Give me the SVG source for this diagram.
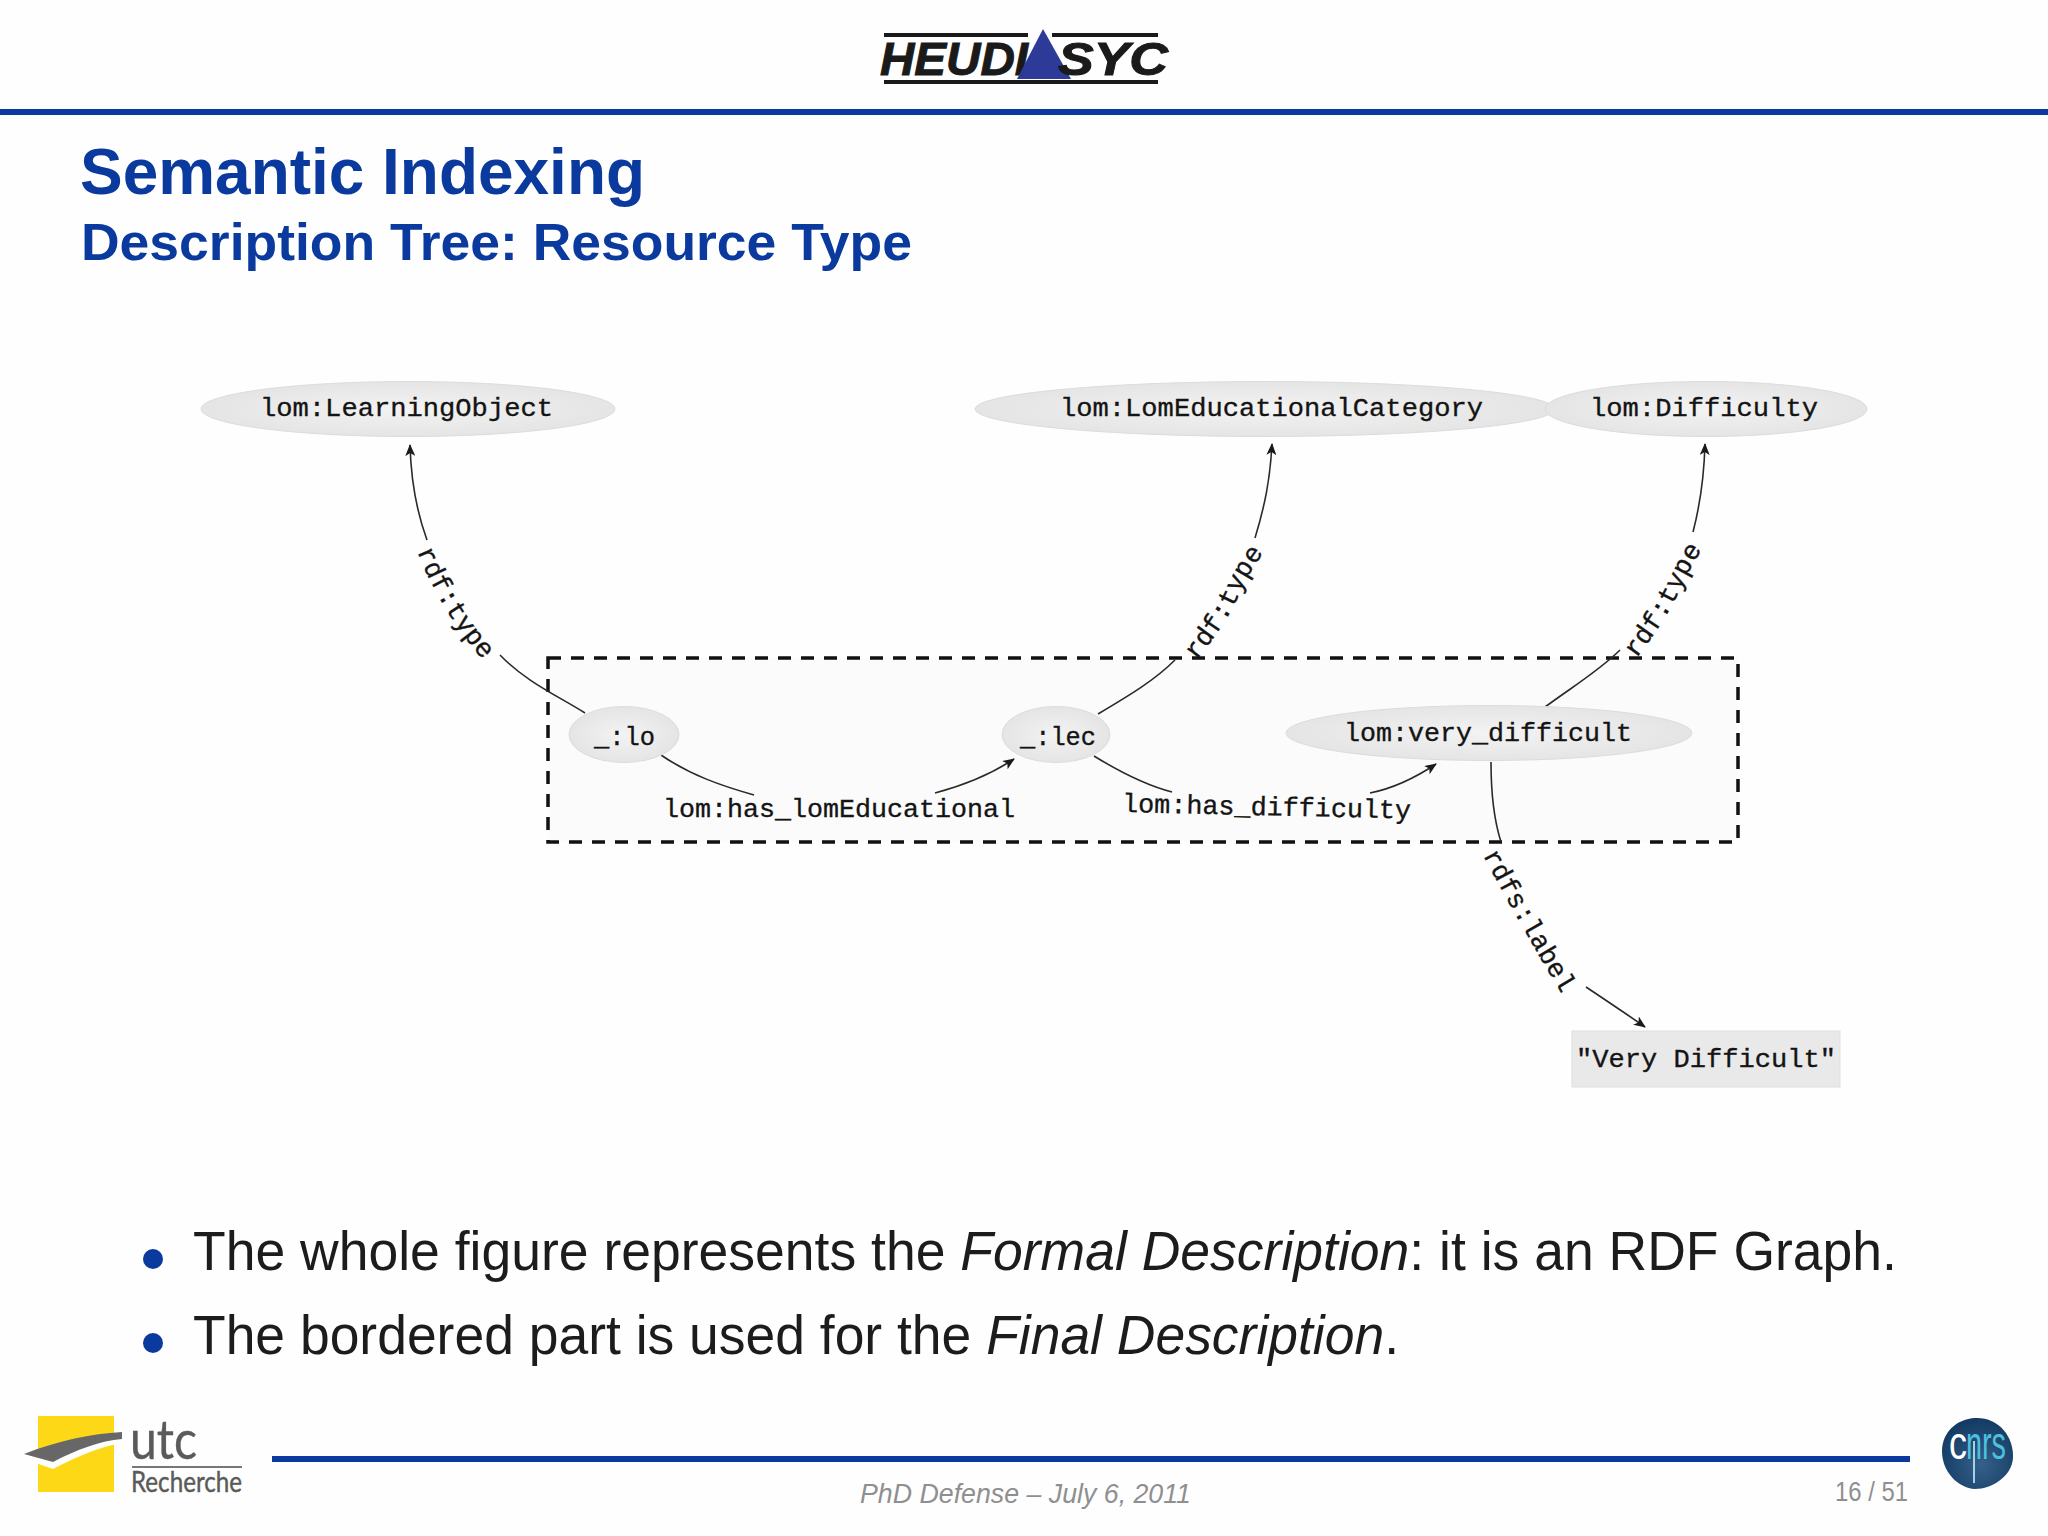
<svg xmlns="http://www.w3.org/2000/svg" width="2048" height="1536" viewBox="0 0 2048 1536">
<style>
.n{fill:url(#ng);stroke:#dcdcdc;stroke-width:1}
.t{font-family:"Liberation Mono","DejaVu Sans Mono",monospace;font-size:26.7px;fill:#141414;stroke:#141414;stroke-width:.35}
.e{fill:none;stroke:#2a2a2a;stroke-width:1.6}
.h{font-family:"Liberation Sans",Arial,sans-serif;font-weight:700;fill:#0b3a9e}
.b{font-family:"Liberation Sans",Arial,sans-serif;font-size:55px;fill:#1c1c1c}
.f{font-family:"Liberation Sans",Arial,sans-serif;font-size:28px;fill:#8f8f8f}
.bar{fill:#0b3a9e}
.u{font-family:"Lato","Liberation Sans",sans-serif;fill:#5a5a5a;stroke:#5a5a5a;stroke-width:.4}
.l{font-family:"Liberation Sans",sans-serif;font-weight:700;font-style:italic;font-size:46px;fill:#1a1a1a;stroke:#1a1a1a;stroke-width:1}
</style>
<defs>
<radialGradient id="ng" cx=".5" cy=".5" r=".6"><stop offset="0" stop-color="#f3f3f3"/><stop offset="1" stop-color="#e2e2e2"/></radialGradient>
<radialGradient id="cg" cx=".55" cy=".65" r=".65"><stop offset="0" stop-color="#356089"/><stop offset="1" stop-color="#123a62"/></radialGradient>
<marker id="a" viewBox="0 0 12 10" refX="11" refY="5" markerWidth="12" markerHeight="10" markerUnits="userSpaceOnUse" orient="auto"><path d="M0 0L12 5L0 10L3 5Z" fill="#1a1a1a"/></marker>
<path id="p1" d="M417 551Q441 612 484 661"/>
<path id="p2" d="M1196 661Q1227 622 1238 597T1263 554"/>
<path id="p3" d="M1636 659Q1667 618 1679 592T1700 553"/>
<path id="p4" d="M1483 855Q1514 915 1563 996"/>
</defs>
<rect width="2048" height="1536" fill="#fefefe"/>
<g id="header">
<rect x="884" y="33" width="144" height="4" fill="#1a1a1a"/><rect x="1052" y="33" width="106" height="4" fill="#1a1a1a"/>
<rect x="884" y="80" width="274" height="4" fill="#1a1a1a"/>
<text class="l" x="880" y="75" textLength="148" lengthAdjust="spacingAndGlyphs">HEUDI</text>
<polygon points="1043,29 1017,79 1071,79" fill="#2d3a97"/>
<text class="l" x="1058" y="75" textLength="110" lengthAdjust="spacingAndGlyphs">SYC</text>
<rect class="bar" y="109" width="2048" height="6"/>
</g>
<g id="title">
<text class="h" x="80" y="194" font-size="64" textLength="565" lengthAdjust="spacingAndGlyphs">Semantic Indexing</text>
<text class="h" x="81" y="260" font-size="52" textLength="831" lengthAdjust="spacingAndGlyphs">Description Tree: Resource Type</text>
</g>
<rect id="border" x="548" y="658" width="1190" height="184" fill="#fbfbfb" stroke="#111" stroke-width="3.5" stroke-dasharray="13 10"/>
<g id="connectors">
<path class="e" d="M585 713C558 696 526 682 500 655"/>
<path class="e" marker-end="url(#a)" d="M427 540C416 510 411 480 410 445"/>
<path class="e" d="M661 755C690 775 722 786 754 795"/>
<path class="e" marker-end="url(#a)" d="M935 793C965 785 990 775 1014 759"/>
<path class="e" d="M1098 714C1130 695 1155 680 1175 660"/>
<path class="e" marker-end="url(#a)" d="M1255 538C1265 505 1270 480 1272 444"/>
<path class="e" d="M1094 756C1120 772 1145 785 1172 792"/>
<path class="e" marker-end="url(#a)" d="M1370 793C1395 788 1415 778 1436 764"/>
<path class="e" d="M1545 707C1575 685 1600 670 1620 650"/>
<path class="e" marker-end="url(#a)" d="M1693 532C1700 505 1704 480 1705 444"/>
<path class="e" d="M1491 762C1491 790 1494 820 1501 842"/>
<path class="e" marker-end="url(#a)" d="M1586 987C1610 1003 1628 1015 1645 1027"/>
</g>
<g id="edge-labels">
<text class="t"><textPath href="#p1">rdf:type</textPath></text>
<text class="t"><textPath href="#p2">rdf:type</textPath></text>
<text class="t"><textPath href="#p3">rdf:type</textPath></text>
<text class="t"><textPath href="#p4">rdfs:label</textPath></text>
<text class="t" x="663" y="817" textLength="352" lengthAdjust="spacingAndGlyphs">lom:has_lomEducational</text>
<text class="t" x="1122" y="812" textLength="289" lengthAdjust="spacingAndGlyphs" transform="rotate(1.3 1122 812)">lom:has_difficulty</text>
</g>
<g id="n-learning"><ellipse class="n" cx="408" cy="409" rx="207" ry="27.5"/><text class="t" x="260" y="416" textLength="293" lengthAdjust="spacingAndGlyphs">lom:LearningObject</text></g>
<g id="n-category"><ellipse class="n" cx="1265" cy="409" rx="290" ry="27.5"/><text class="t" x="1060" y="416" textLength="423" lengthAdjust="spacingAndGlyphs">lom:LomEducationalCategory</text></g>
<g id="n-difficulty"><ellipse class="n" cx="1706" cy="409" rx="161" ry="27.5"/><text class="t" x="1590" y="416" textLength="228" lengthAdjust="spacingAndGlyphs">lom:Difficulty</text></g>
<g id="n-lo"><ellipse class="n" cx="624" cy="734.5" rx="55" ry="28"/><text class="t" x="594" y="745" textLength="61" lengthAdjust="spacingAndGlyphs">_:lo</text></g>
<g id="n-lec"><ellipse class="n" cx="1056" cy="734.5" rx="54" ry="28"/><text class="t" x="1020" y="745" textLength="76" lengthAdjust="spacingAndGlyphs">_:lec</text></g>
<g id="n-very"><ellipse class="n" cx="1489" cy="733" rx="203" ry="27.5"/><text class="t" x="1344" y="741" textLength="288" lengthAdjust="spacingAndGlyphs">lom:very_difficult</text></g>
<g id="n-literal"><rect x="1572" y="1031" width="268" height="56" fill="#e9e9e9" stroke="#dedede"/><text class="t" x="1576" y="1067" textLength="260" lengthAdjust="spacingAndGlyphs">"Very Difficult"</text></g>
<g id="bullets">
<circle cx="153" cy="1259" r="10" fill="#0b3a9e"/>
<text class="b" x="193" y="1270" textLength="1704" lengthAdjust="spacingAndGlyphs">The whole figure represents the <tspan font-style="italic">Formal Description</tspan>: it is an RDF Graph.</text>
<circle cx="153" cy="1343" r="10" fill="#0b3a9e"/>
<text class="b" x="193" y="1354" textLength="1206" lengthAdjust="spacingAndGlyphs">The bordered part is used for the <tspan font-style="italic">Final Description</tspan>.</text>
</g>
<g id="footer">
<rect class="bar" x="272" y="1456" width="1638" height="6"/>
<text class="f" x="860" y="1503" font-style="italic" textLength="331" lengthAdjust="spacingAndGlyphs">PhD Defense – July 6, 2011</text>
<text class="f" x="1835" y="1501" textLength="73" lengthAdjust="spacingAndGlyphs">16 / 51</text>
</g>
<g id="utc-logo">
<rect x="38" y="1416" width="76" height="76" fill="#fdd816"/>
<path d="M24 1454C60 1440 90 1434 122 1432V1438C100 1442 80 1450 53 1464Z" fill="#fefefe" transform="translate(0 5)"/>
<path d="M24 1454C60 1440 90 1434 122 1432V1439C100 1441 78 1449 53 1462Z" fill="#676767"/>
<text class="u" x="130" y="1459" font-size="54" textLength="67" lengthAdjust="spacingAndGlyphs">utc</text>
<rect x="132" y="1466" width="110" height="2" fill="#777"/>
<text class="u" x="131" y="1492" font-size="28" textLength="111" lengthAdjust="spacingAndGlyphs">Recherche</text>
</g>
<g id="cnrs-logo">
<path d="M1975 1418C1998 1417 2014 1436 2013 1458C2012 1476 1992 1489 1975 1489C1958 1488 1942 1472 1942 1451C1942 1432 1957 1419 1975 1418Z" fill="url(#cg)"/>
<text x="1949" y="1459" font-family="Liberation Sans" font-size="46" fill="#fff" textLength="18" lengthAdjust="spacingAndGlyphs">c</text>
<text x="1966" y="1459" font-family="Liberation Sans" font-size="46" fill="#4cc0de" textLength="40" lengthAdjust="spacingAndGlyphs">nrs</text>
<rect x="1973" y="1441" width="2" height="42" fill="#9fd4e8"/>
</g>
</svg>
